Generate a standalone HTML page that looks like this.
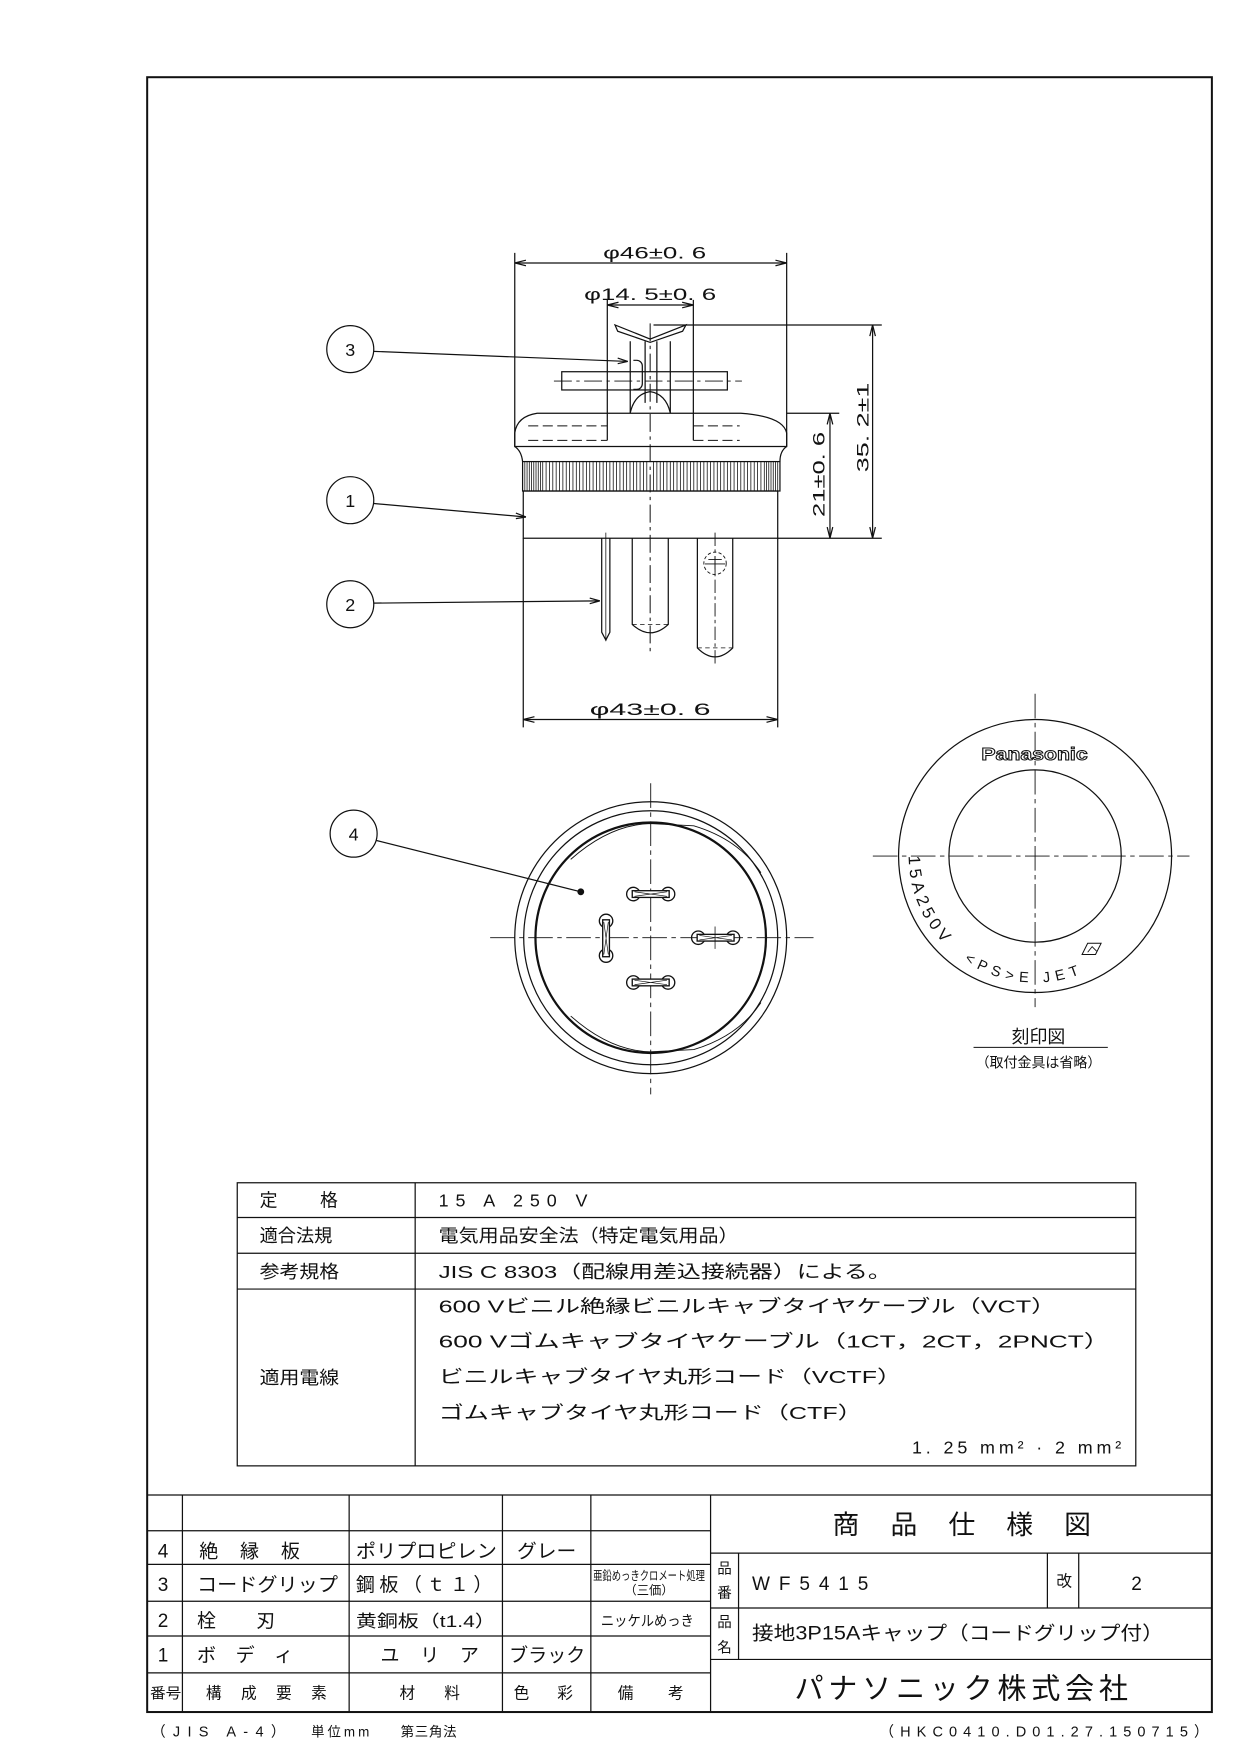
<!DOCTYPE html>
<html><head><meta charset="utf-8"><style>
html,body{margin:0;padding:0;background:#fff}
svg{display:block}
text{font-family:"Liberation Sans","Noto Sans CJK JP",sans-serif;fill:#111}
</style></head><body>
<svg width="1241" height="1754" viewBox="0 0 1109 1567.5" xmlns="http://www.w3.org/2000/svg">
<g fill="none" stroke="#111" stroke-width="1.1">
<rect x="131.5" y="69" width="951.5" height="1461" stroke-width="1.8"/>

<!-- dims phi46 -->
<line x1="460" y1="226" x2="460" y2="399"/>
<line x1="703" y1="226" x2="703" y2="399"/>
<line x1="460" y1="235" x2="703" y2="235"/>
<path d="M460 235 l10 -2.5 M460 235 l10 2.5 M703 235 l-10 -2.5 M703 235 l-10 2.5"/>
<!-- phi14.5 -->
<line x1="542.7" y1="268" x2="542.7" y2="393.5"/>
<line x1="619.6" y1="268" x2="619.6" y2="393.5"/>
<line x1="542.7" y1="272.6" x2="619.6" y2="272.6"/>
<path d="M542.7 272.6 l10 -2.5 M542.7 272.6 l10 2.5 M619.6 272.6 l-10 -2.5 M619.6 272.6 l-10 2.5"/>
<line x1="581" y1="289" x2="581" y2="582" stroke-dasharray="16 4 3 4" stroke-width="0.9"/>
<!-- grip V -->
<path d="M549.6 290.4 L552 296 L581 306 L610 296 L613 290.4 L581 303 Z"/>
<path d="M563.2 305 L563.2 369 M599 305 L599 369 M576.5 305 L576.5 360 M587 305 L587 360"/>
<path d="M563.2 369 Q567 352 581 350 Q595 352 599 369"/>
<path d="M566 322 h3 a5 5 0 0 1 5 5 v16 a5 5 0 0 1 -5 5 h-3"/>
<rect x="502" y="332.2" width="148" height="16.3"/>
<line x1="495" y1="340.5" x2="663" y2="340.5" stroke-dasharray="16 4 3 4" stroke-width="0.8"/>
<!-- cap -->
<path d="M460 399 L460 387 Q462 372 480 369.3 L662 369.3 Q700 372 703 387 L703 399 Z"/>
<path d="M472 380.6 H542.7 M472 393.5 H542.7 M619.6 380.6 H661 M619.6 393.5 H661" stroke-dasharray="9 4" stroke-width="0.9"/>
<path d="M460 399 Q466 403 467 412.5 M703 399 Q697 403 697 412.5"/>
<rect x="467" y="412.5" width="230" height="26.3"/>
<g stroke-width="0.7">
<path d="M469 412.5v26.3M471 412.5v26.3M473 412.5v26.3M475 412.5v26.3M477 412.5v26.3M479 412.5v26.3M481 412.5v26.3M483 412.5v26.3M485 412.5v26.3M488 412.5v26.3M491 412.5v26.3M494 412.5v26.3M497 412.5v26.3M500 412.5v26.3M503 412.5v26.3M506 412.5v26.3M509 412.5v26.3M512 412.5v26.3M515 412.5v26.3M518 412.5v26.3M521 412.5v26.3M524 412.5v26.3M527 412.5v26.3M530 412.5v26.3M533 412.5v26.3M536 412.5v26.3M539 412.5v26.3M542 412.5v26.3M545 412.5v26.3M548 412.5v26.3M551 412.5v26.3M554 412.5v26.3M557 412.5v26.3M560 412.5v26.3M563 412.5v26.3M566 412.5v26.3M569 412.5v26.3M572 412.5v26.3M575 412.5v26.3M578 412.5v26.3M584 412.5v26.3M587 412.5v26.3M590 412.5v26.3M593 412.5v26.3M596 412.5v26.3M599 412.5v26.3M602 412.5v26.3M605 412.5v26.3M608 412.5v26.3M611 412.5v26.3M614 412.5v26.3M617 412.5v26.3M620 412.5v26.3M623 412.5v26.3M626 412.5v26.3M629 412.5v26.3M632 412.5v26.3M635 412.5v26.3M638 412.5v26.3M641 412.5v26.3M644 412.5v26.3M647 412.5v26.3M650 412.5v26.3M653 412.5v26.3M656 412.5v26.3M659 412.5v26.3M662 412.5v26.3M665 412.5v26.3M668 412.5v26.3M671 412.5v26.3M674 412.5v26.3M677 412.5v26.3M680 412.5v26.3M683 412.5v26.3M685 412.5v26.3M687 412.5v26.3M689 412.5v26.3M691 412.5v26.3M693 412.5v26.3M695 412.5v26.3"/>
</g>
<rect x="467.6" y="438.8" width="227.4" height="42.2"/>
<!-- pins -->
<path d="M537.7 481 V565 L541.4 572 L545 565 V481"/>
<line x1="541.4" y1="476" x2="541.4" y2="573" stroke-width="0.7"/>
<path d="M565 481 V558 Q581 573 597.2 558 V481"/>
<path d="M565 558 H597.2" stroke-dasharray="4 3" stroke-width="0.7"/>
<path d="M623.2 481 V579 Q639 595 654.8 579 V481"/>
<path d="M623.2 579 H654.8" stroke-dasharray="4 3" stroke-width="0.7"/>
<line x1="639" y1="476" x2="639" y2="593" stroke-dasharray="12 3 3 3" stroke-width="0.8"/>
<circle cx="639" cy="503.4" r="10" stroke-dasharray="3 2" stroke-width="0.8"/>
<path d="M633 500 H645 M630 504 H648 M639 497 V512" stroke-width="0.8"/>
<!-- dim 21 / 35.2 -->
<line x1="703" y1="369.3" x2="750" y2="369.3"/>
<line x1="584" y1="290.4" x2="788" y2="290.4"/>
<line x1="695" y1="481" x2="788" y2="481"/>
<line x1="741.7" y1="369.3" x2="741.7" y2="481"/>
<path d="M741.7 369.3 l-2.5 10 M741.7 369.3 l2.5 10 M741.7 481 l-2.5 -10 M741.7 481 l2.5 -10"/>
<line x1="779.8" y1="290.4" x2="779.8" y2="481"/>
<path d="M779.8 290.4 l-2.5 10 M779.8 290.4 l2.5 10 M779.8 481 l-2.5 -10 M779.8 481 l2.5 -10"/>
<line x1="467.6" y1="481" x2="467.6" y2="650"/>
<line x1="695" y1="481" x2="695" y2="650"/>
<line x1="467.6" y1="643" x2="695" y2="643"/>
<path d="M467.6 643 l10 -2.5 M467.6 643 l10 2.5 M695 643 l-10 -2.5 M695 643 l-10 2.5"/>

<!-- balloons -->
<circle cx="313" cy="312" r="21"/>
<line x1="334" y1="314" x2="561" y2="323"/>
<path d="M561 323 l-9 -3 M561 323 l-9 2"/>
<circle cx="313" cy="447" r="21"/>
<line x1="334" y1="450" x2="470" y2="462"/>
<path d="M470 462 l-9 -3.5 M470 462 l-9 1.5"/>
<circle cx="313" cy="540" r="21"/>
<line x1="334" y1="539" x2="536" y2="537"/>
<path d="M536 537 l-9 -2.5 M536 537 l-9 2.5"/>
<circle cx="316" cy="745" r="21"/>
<line x1="336" y1="751" x2="519" y2="797"/>
<circle cx="519" cy="797" r="2.5" fill="#111"/>

<!-- bottom view -->
<circle cx="581.5" cy="838" r="121.5"/>
<circle cx="581.5" cy="838" r="113.5"/>
<circle cx="581.5" cy="838" r="103" stroke-width="2"/>
<path d="M510 768 Q545 737 581 736 L620 738 Q660 750 680 780 M510 908 Q545 939 581 940 L620 938 Q660 926 680 896" stroke-width="0.8"/>
<line x1="438" y1="838" x2="727" y2="838" stroke-dasharray="22 4 4 4" stroke-width="0.8"/>
<line x1="581.5" y1="700" x2="581.5" y2="978" stroke-dasharray="22 4 4 4" stroke-width="0.8"/>
<g stroke-width="1.2">
<circle cx="566" cy="799" r="6"/><circle cx="597" cy="799" r="6"/>
<rect x="565" y="796" width="33" height="6" fill="#fff"/>
<path d="M567 797 L596 801 M567 801 L596 797" stroke-width="0.6"/>
<circle cx="566" cy="878" r="6"/><circle cx="597" cy="878" r="6"/>
<rect x="565" y="875" width="33" height="6" fill="#fff"/>
<path d="M567 876 L596 880 M567 880 L596 876" stroke-width="0.6"/>
<circle cx="624" cy="838" r="6"/><circle cx="655" cy="838" r="6"/>
<rect x="623" y="835" width="33" height="6" fill="#fff"/>
<path d="M625 836 L654 840 M625 840 L654 836" stroke-width="0.6"/>
<circle cx="541.6" cy="823" r="6"/><circle cx="541.6" cy="854" r="6"/>
<rect x="538.6" y="822" width="6" height="33" fill="#fff"/>
<path d="M539.6 824 L543.6 853 M543.6 824 L539.6 853" stroke-width="0.6"/>
</g>
<line x1="639" y1="828" x2="639" y2="848" stroke-width="0.7"/>

<!-- marking view -->
<circle cx="925" cy="765" r="122"/>
<circle cx="925" cy="765" r="77"/>
<line x1="780" y1="765" x2="1063" y2="765" stroke-dasharray="22 4 4 4" stroke-width="0.8"/>
<line x1="925" y1="620" x2="925" y2="900" stroke-dasharray="22 4 4 4" stroke-width="0.8"/>
<path d="M972 843 h12 l-5 10 h-12 z" stroke-width="0.9"/>
<path d="M972 851 L976 846 L980 850" stroke-width="0.8"/>
<line x1="870" y1="936" x2="990" y2="936" stroke-width="0.9"/>

<!-- spec table -->
<rect x="212" y="1057" width="803" height="253"/>
<line x1="371" y1="1057" x2="371" y2="1310"/>
<line x1="212" y1="1088" x2="1015" y2="1088"/>
<line x1="212" y1="1120" x2="1015" y2="1120"/>
<line x1="212" y1="1152" x2="1015" y2="1152"/>

<!-- title block -->
<line x1="131.5" y1="1336" x2="1083" y2="1336"/>
<line x1="163" y1="1336" x2="163" y2="1530"/>
<line x1="312" y1="1336" x2="312" y2="1530"/>
<line x1="449" y1="1336" x2="449" y2="1530"/>
<line x1="528" y1="1336" x2="528" y2="1530"/>
<line x1="635" y1="1336" x2="635" y2="1530"/>
<line x1="131.5" y1="1368" x2="635" y2="1368"/>
<line x1="131.5" y1="1398" x2="635" y2="1398"/>
<line x1="131.5" y1="1431" x2="635" y2="1431"/>
<line x1="131.5" y1="1462" x2="635" y2="1462"/>
<line x1="131.5" y1="1495" x2="635" y2="1495"/>
<line x1="635" y1="1388" x2="1083" y2="1388"/>
<line x1="635" y1="1437" x2="1083" y2="1437"/>
<line x1="635" y1="1483" x2="1083" y2="1483"/>
<line x1="660" y1="1388" x2="660" y2="1483"/>
<line x1="936" y1="1388" x2="936" y2="1437"/>
<line x1="964" y1="1388" x2="964" y2="1437"/>
</g>

<g font-size="15">
<text x="539" y="231" textLength="92" lengthAdjust="spacingAndGlyphs">φ46±0. 6</text>
<text x="522" y="268" textLength="118" lengthAdjust="spacingAndGlyphs">φ14. 5±0. 6</text>
<text x="527" y="639" textLength="108" lengthAdjust="spacingAndGlyphs">φ43±0. 6</text>
<text transform="translate(737 462) rotate(-90)" textLength="76" lengthAdjust="spacingAndGlyphs">21±0. 6</text>
<text transform="translate(776 422) rotate(-90)" textLength="80" lengthAdjust="spacingAndGlyphs">35. 2±1</text>
<text x="313" y="318" text-anchor="middle" font-size="16">3</text>
<text x="313" y="453" text-anchor="middle" font-size="16">1</text>
<text x="313" y="546" text-anchor="middle" font-size="16">2</text>
<text x="316" y="751" text-anchor="middle" font-size="16">4</text>
</g>

<text x="877" y="679" font-size="16" font-weight="bold" textLength="95" lengthAdjust="spacingAndGlyphs" style="fill:#fff;stroke:#111;stroke-width:0.9">Panasonic</text>
<defs><path id="arc" d="M812 765 A113 113 0 0 0 1038 765"/></defs>
<text font-size="15"><textPath href="#arc" startOffset="0" letter-spacing="4">15A250V</textPath></text>
<text font-size="13"><textPath href="#arc" startOffset="110" letter-spacing="5">&lt;PS&gt;E JET</textPath></text>
<text x="928" y="932" text-anchor="middle" font-size="16">刻印図</text>
<text x="928" y="954" text-anchor="middle" font-size="12.5">（取付金具は省略）</text>

<g font-size="16">
<text x="232" y="1078" textLength="70" lengthAdjust="spacing">定　　格</text>
<text x="232" y="1110" textLength="65" lengthAdjust="spacingAndGlyphs">適合法規</text>
<text x="232" y="1142" textLength="71" lengthAdjust="spacingAndGlyphs">参考規格</text>
<text x="232" y="1237" textLength="71" lengthAdjust="spacingAndGlyphs">適用電線</text>
<text x="392" y="1078" textLength="133" lengthAdjust="spacing">15 A 250 V</text>
<text x="392" y="1110" textLength="268" lengthAdjust="spacingAndGlyphs">電気用品安全法（特定電気用品）</text>
<text x="392" y="1142" textLength="405" lengthAdjust="spacingAndGlyphs">JIS C 8303（配線用差込接続器）による。</text>
<text x="392" y="1173" textLength="552" lengthAdjust="spacingAndGlyphs">600 Vビニル絶縁ビニルキャブタイヤケーブル（VCT）</text>
<text x="392" y="1204" textLength="600" lengthAdjust="spacingAndGlyphs">600 Vゴムキャブタイヤケーブル（1CT，2CT，2PNCT）</text>
<text x="392" y="1236" textLength="414" lengthAdjust="spacingAndGlyphs">ビニルキャブタイヤ丸形コード（VCTF）</text>
<text x="392" y="1268" textLength="379" lengthAdjust="spacingAndGlyphs">ゴムキャブタイヤ丸形コード（CTF）</text>
<text x="815" y="1299" textLength="187" lengthAdjust="spacing">1. 25 mm² · 2 mm²</text>
</g>

<g font-size="17">
<text x="141" y="1392">4</text>
<text x="141" y="1422">3</text>
<text x="141" y="1454">2</text>
<text x="141" y="1485">1</text>
<text x="178" y="1392" textLength="90" lengthAdjust="spacing">絶　縁　板</text>
<text x="318" y="1392" textLength="126" lengthAdjust="spacingAndGlyphs">ポリプロピレン</text>
<text x="462" y="1392" textLength="53" lengthAdjust="spacingAndGlyphs">グレー</text>
<text x="176" y="1422" textLength="126" lengthAdjust="spacingAndGlyphs">コードグリップ</text>
<text x="318" y="1422" textLength="122" lengthAdjust="spacing">鋼板（ｔ１）</text>
<text x="530" y="1412" font-size="11" textLength="100" lengthAdjust="spacingAndGlyphs">亜鉛めっきクロメート処理</text>
<text x="580" y="1425" font-size="11" text-anchor="middle">（三価）</text>
<text x="176" y="1454" textLength="70" lengthAdjust="spacing">栓　　刃</text>
<text x="318" y="1454" font-size="15" textLength="125" lengthAdjust="spacingAndGlyphs">黄銅板（t1.4）</text>
<text x="537" y="1453" font-size="13" textLength="83" lengthAdjust="spacingAndGlyphs">ニッケルめっき</text>
<text x="176" y="1485" textLength="86" lengthAdjust="spacing">ボ　デ　ィ</text>
<text x="340" y="1485" textLength="88" lengthAdjust="spacing">ユ　リ　ア</text>
<text x="455" y="1485" textLength="68" lengthAdjust="spacingAndGlyphs">ブラック</text>
<text x="134" y="1518" font-size="13" textLength="28" lengthAdjust="spacingAndGlyphs">番号</text>
<text x="184" y="1518" font-size="14" textLength="108" lengthAdjust="spacing">構　成　要　素</text>
<text x="357" y="1518" font-size="14" textLength="54" lengthAdjust="spacing">材　料</text>
<text x="459" y="1518" font-size="14" textLength="53" lengthAdjust="spacing">色　彩</text>
<text x="552" y="1518" font-size="14" textLength="59" lengthAdjust="spacing">備　考</text>
<text x="744" y="1371" font-size="24" textLength="231" lengthAdjust="spacing">商　品　仕　様　図</text>
<text x="641" y="1406" font-size="13">品</text>
<text x="641" y="1428" font-size="13">番</text>
<text x="672" y="1421" textLength="104" lengthAdjust="spacing">WF5415</text>
<text x="944" y="1418" font-size="14">改</text>
<text x="1011" y="1421">2</text>
<text x="641" y="1454" font-size="13">品</text>
<text x="641" y="1477" font-size="13">名</text>
<text x="672" y="1465" textLength="368" lengthAdjust="spacingAndGlyphs">接地3P15Aキャップ（コードグリップ付）</text>
<text x="710" y="1518" font-size="26" textLength="298" lengthAdjust="spacing">パナソニック株式会社</text>
<text x="135" y="1552" font-size="13" textLength="120" lengthAdjust="spacing">（JIS A-4）</text>
<text x="278" y="1552" font-size="12" textLength="52" lengthAdjust="spacing">単位mm</text>
<text x="358" y="1552" font-size="12" textLength="50" lengthAdjust="spacing">第三角法</text>
<text x="786" y="1552" font-size="13" textLength="294" lengthAdjust="spacing">（HKC0410.D01.27.150715）</text>
</g>
</svg>
</body></html>
